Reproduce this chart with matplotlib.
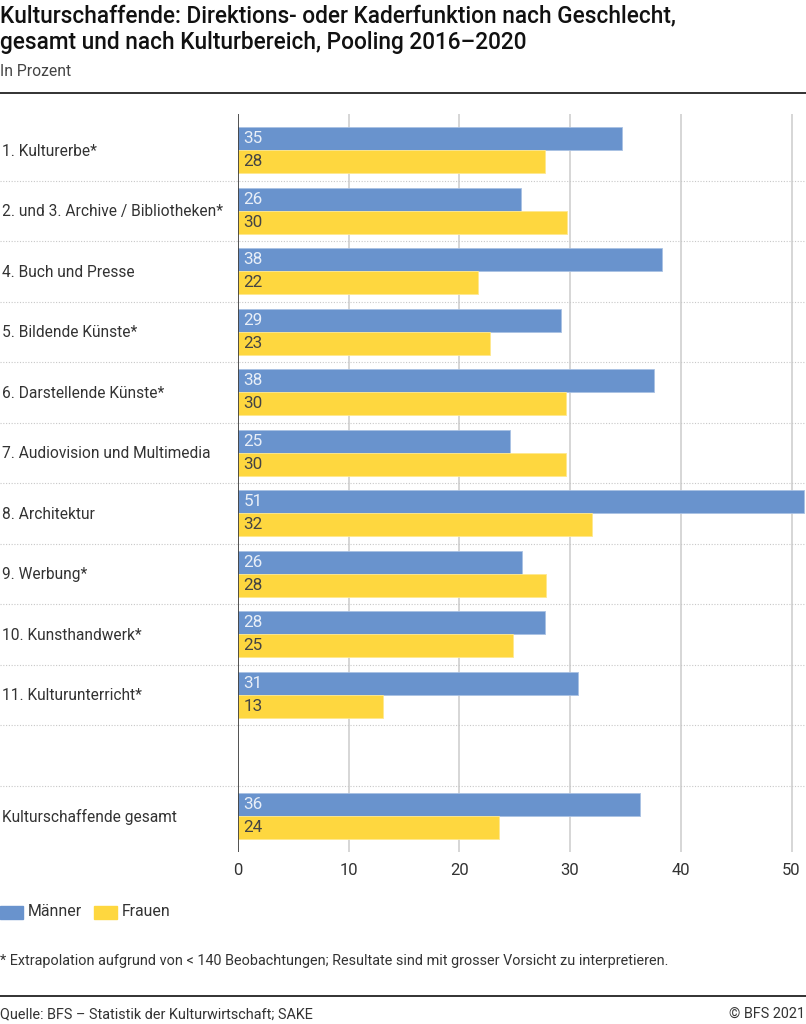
import numpy as np
import matplotlib
matplotlib.use("Agg")
import matplotlib.pyplot as plt
from matplotlib.patches import Rectangle

plt.rcParams['font.family'] = ['Roboto', 'DejaVu Sans']

# Data (percent)
categories = [
    "1. Kulturerbe*",
    "2. und 3. Archive / Bibliotheken*",
    "4. Buch und Presse",
    "5. Bildende Künste*",
    "6. Darstellende Künste*",
    "7. Audiovision und Multimedia",
    "8. Architektur",
    "9. Werbung*",
    "10. Kunsthandwerk*",
    "11. Kulturunterricht*",
    "",
    "Kulturschaffende gesamt",
]
maenner = [34.7, 25.6, 38.3, 29.2, 37.6, 24.6, 51.1, 25.7, 27.7, 30.7, np.nan, 36.3]
frauen = [27.7, 29.7, 21.7, 22.8, 29.6, 29.6, 32.0, 27.8, 24.8, 13.1, np.nan, 23.6]
xticks = [0, 10, 20, 30, 40, 50]

BLUE = "#6993CD"
YELLOW = "#FED73F"
TXT = "#333333"

W, H = 806, 1024
fig = plt.figure(figsize=(W / 100, H / 100), dpi=100)

def fx(px):
    return px / W

def fy(py):
    return 1 - py / H

# axes: data 0 at x=238, right edge 806; top y=114, bottom y=852
ax_l, ax_r, ax_t, ax_b = 238, 806, 114, 852
ax = fig.add_axes([fx(ax_l), fy(ax_b), fx(ax_r - ax_l), (ax_b - ax_t) / H])
slot = 60.5
ax.set_ylim(11.5 + (ax_b - 846) / slot, -0.5 - (120 - ax_t) / slot)
px_per_unit = 11.07
ax.set_xlim(0, (ax_r - ax_l) / px_per_unit)

y = np.arange(len(categories))
bh = 23 / slot
ax.barh(y - bh / 2, maenner, height=bh, color=BLUE, edgecolor="#a9c1e3", linewidth=0.6, zorder=3)
ax.barh(y + bh / 2, frauen, height=bh, color=YELLOW, edgecolor="#ffe88f", linewidth=0.6, zorder=3)

for i, (m, f) in enumerate(zip(maenner, frauen)):
    if np.isnan(m):
        continue
    ax.text(0.5, i - bh / 2, f"{m:.0f}", color="white", alpha=0.85, fontsize=12.3,
            va="center", ha="left", zorder=4)
    ax.text(0.5, i + bh / 2, f"{f:.0f}", color="#444444", fontsize=12.3,
            va="center", ha="left", zorder=4)

# gridlines
for t in xticks[1:]:
    ax.axvline(t, color="#d0d0d0", linewidth=1.2, zorder=1)
ax.axvline(0, color="#333333", linewidth=1.2, zorder=5)

# dotted separators across whole width
for i in range(len(categories) - 1):
    ax.axhline(i + 0.5, xmin=-ax_l / (ax_r - ax_l), xmax=1, color="#c8c8c8",
               linestyle=(0, (1, 1.5)), linewidth=0.8, clip_on=False, zorder=1)

for s in ax.spines.values():
    s.set_visible(False)
ax.set_yticks([])
ax.set_xticks(xticks)
ax.tick_params(axis="x", length=0, pad=8, labelsize=12, labelcolor=TXT)

# category labels
for i, c in enumerate(categories):
    if c:
        fig.text(fx(2), fy(ax_t + (i + 0.5) * slot + 7), c, fontsize=11.2, color=TXT,
                 va="center", ha="left")

# title etc.
fig.text(fx(0), fy(16), "Kulturschaffende: Direktions- oder Kaderfunktion nach Geschlecht,",
         fontsize=16.3, weight="medium", color="#111111", va="center", ha="left")
fig.text(fx(0), fy(42), "gesamt und nach Kulturbereich, Pooling 2016–2020",
         fontsize=16.3, weight="medium", color="#111111", va="center", ha="left")
fig.text(fx(0), fy(71), "In Prozent", fontsize=11.3, color="#444444", va="center", ha="left")

fig.add_artist(plt.Line2D([0, 1], [fy(93), fy(93)], color="#222222", linewidth=1.3))
fig.add_artist(plt.Line2D([0, 1], [fy(996), fy(996)], color="#222222", linewidth=1.3))

# legend
fig.add_artist(Rectangle((fx(0), fy(919)), fx(23), 13 / H, color=BLUE))
fig.text(fx(28), fy(912), "Männer", fontsize=11.4, color=TXT, va="center", ha="left")
fig.add_artist(Rectangle((fx(94), fy(919)), fx(23), 13 / H, color=YELLOW))
fig.text(fx(122), fy(912), "Frauen", fontsize=11.4, color=TXT, va="center", ha="left")

fig.text(fx(0), fy(961), "* Extrapolation aufgrund von < 140 Beobachtungen; Resultate sind mit grosser Vorsicht zu interpretieren.",
         fontsize=10.4, color=TXT, va="center", ha="left")
fig.text(fx(0), fy(1014), "Quelle: BFS – Statistik der Kulturwirtschaft; SAKE",
         fontsize=10.4, color=TXT, va="center", ha="left")
fig.text(fx(805), fy(1014), "© BFS 2021", fontsize=10.4, color=TXT, va="center", ha="right")

fig.savefig("out.png", dpi=100)
